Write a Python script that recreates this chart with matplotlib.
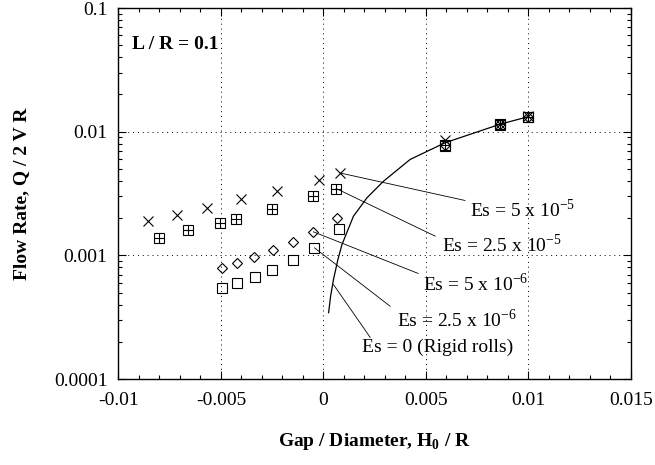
import numpy as np
import matplotlib
matplotlib.use('Agg')
import matplotlib.pyplot as plt
from matplotlib.ticker import FixedLocator, FixedFormatter, MultipleLocator, LogLocator, NullFormatter

plt.rcParams['font.family'] = ['Liberation Serif', 'DejaVu Serif']
plt.rcParams['mathtext.fontset'] = 'custom'
plt.rcParams['mathtext.rm'] = 'Liberation Serif'
plt.rcParams['mathtext.bf'] = 'Liberation Serif:bold'
plt.rcParams['axes.unicode_minus'] = False

# Es = 5e-5 (x markers)
x_a = [-0.00854, -0.00715, -0.00569, -0.00401, -0.00227, -0.00024, 0.00083, 0.00594, 0.00862, 0.00997]
y_a = [0.00189, 0.00214, 0.00243, 0.00283, 0.0033, 0.00406, 0.00463, 0.00855, 0.0116, 0.0133]
# Es = 2.5e-5 (boxed plus)
x_b = [-0.0080, -0.00661, -0.00507, -0.00426, -0.00252, -0.00049, 0.00062, 0.00594, 0.00862, 0.00997]
y_b = [0.00139, 0.00159, 0.00184, 0.00198, 0.00238, 0.00301, 0.00347, 0.0078, 0.0115, 0.0132]
# Es = 5e-6 (diamonds)
x_c = [-0.00496, -0.0042, -0.00338, -0.00247, -0.00151, -0.00049, 0.00065, 0.00594, 0.00862, 0.00997]
y_c = [0.000794, 0.000871, 0.000967, 0.0011, 0.00128, 0.00155, 0.00199, 0.0078, 0.0115, 0.0132]
# Es = 2.5e-6 (squares)
x_d = [-0.00496, -0.0042, -0.00335, -0.0025, -0.00151, -0.00044, 0.00077, 0.00594, 0.00862, 0.00997]
y_d = [0.00054, 0.000593, 0.000667, 0.000755, 0.00091, 0.00115, 0.00162, 0.0077, 0.0114, 0.0131]
# Es = 0, rigid rolls (solid curve)
x_e = [0.00025, 0.00035, 0.00049, 0.0007, 0.0009, 0.00146, 0.00212, 0.00293, 0.00423, 0.00594, 0.00862, 0.00997]
y_e = [0.000344, 0.00047, 0.00064, 0.00092, 0.00122, 0.00207, 0.00292, 0.00398, 0.00597, 0.00815, 0.0115, 0.0132]

xticks = [-0.01, -0.005, 0, 0.005, 0.01, 0.015]
xtick_labels = ['-0.01', '-0.005', '0', '0.005', '0.01', '0.015']
yticks = [0.0001, 0.001, 0.01, 0.1]
ytick_labels = ['0.0001', '0.001', '0.01', '0.1']

labels = ['Es = 5 x 10$^{-5}$', 'Es = 2.5 x 10$^{-5}$', 'Es = 5 x 10$^{-6}$',
          'Es = 2.5 x 10$^{-6}$', 'Es = 0 (Rigid rolls)']
# (text x, text y, line start x, line start y, target x, target y)
notes = [(0.00716, 0.00235, 0.0069, 0.00278, x_a[6], y_a[6]),
         (0.00578, 0.001225, 0.00545, 0.00143, x_b[6], y_b[6]),
         (0.00486, 0.000593, 0.00462, 0.000714, x_c[5], y_c[5]),
         (0.0036, 0.000303, 0.00325, 0.000388, x_d[5], y_d[5]),
         (0.00189, 0.00018, 0.00228, 0.000217, 0.00049, 0.00058)]

fig = plt.figure(figsize=(6.55, 4.65), dpi=100)
ax = fig.add_axes([0.1809, 0.1849, 0.7824, 0.7978])

ax.plot(x_e, y_e, '-', color='black', lw=0.9)
ax.plot(x_a, y_a, 'x', color='black', ms=7.5, mew=0.8, ls='none')
ax.plot(x_b, y_b, 's', color='black', mfc='none', ms=6.5, mew=0.8, ls='none')
ax.plot(x_b, y_b, '+', color='black', ms=6.5, mew=0.8, ls='none')
ax.plot(x_c, y_c, 'D', color='black', mfc='none', ms=5, mew=0.8, ls='none')
ax.plot(x_d, y_d, 's', color='black', mfc='none', ms=7.4, mew=0.8, ls='none')

for lab, (tx, ty, lx, ly, px, py) in zip(labels, notes):
    ax.plot([lx, px], [ly, py], '-', color='black', lw=0.6)
    ax.text(tx, ty, lab, fontsize=14, ha='left', va='center')

ax.text(-0.00933, 0.0508, 'L / R = 0.1', fontsize=14, fontweight='bold', ha='left', va='center')

ax.set_yscale('log')
ax.set_xlim(-0.01, 0.015)
ax.set_ylim(0.0001, 0.1)
ax.xaxis.set_major_locator(FixedLocator(xticks))
ax.xaxis.set_major_formatter(FixedFormatter(xtick_labels))
ax.xaxis.set_minor_locator(MultipleLocator(0.001))
ax.yaxis.set_major_locator(FixedLocator(yticks))
ax.yaxis.set_major_formatter(FixedFormatter(ytick_labels))
ax.yaxis.set_minor_locator(LogLocator(base=10, subs=np.arange(2, 10)))
ax.yaxis.set_minor_formatter(NullFormatter())
ax.tick_params(which='both', direction='in', top=True, right=True, labelsize=14, width=0.8)
ax.tick_params(which='major', length=6)
ax.tick_params(which='minor', length=3)
ax.tick_params(axis='x', pad=9)
ax.tick_params(axis='y', pad=8)
ax.grid(True, which='major', ls=(0, (1, 4)), color='black', lw=0.7)
for s in ax.spines.values():
    s.set_linewidth(1.0)

ax.set_xlabel(r'Gap / Diameter, H$_{\mathbf{0}}$ / R', fontsize=14, fontweight='bold', labelpad=16)
ax.set_ylabel('Flow Rate, Q / 2 V R', fontsize=14, fontweight='bold', labelpad=17)

fig.savefig('out.png', dpi=100)
